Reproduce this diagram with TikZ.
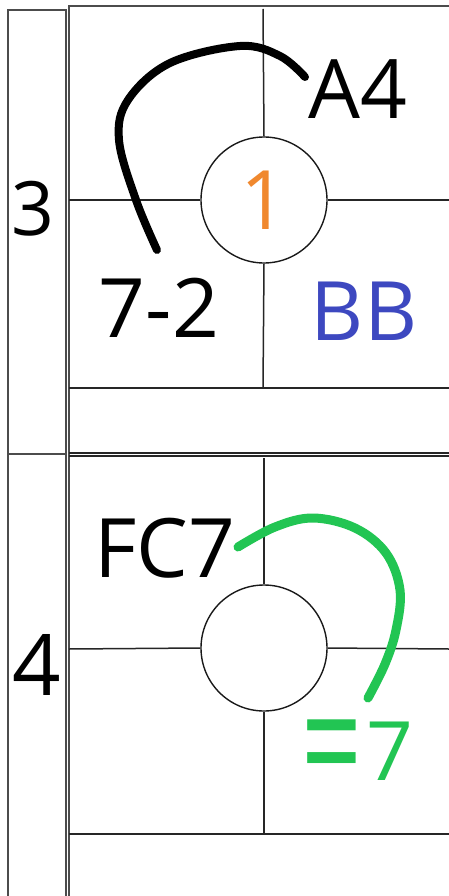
\documentclass[tikz,border=0pt]{standalone}
\usepackage{fontspec}
\setmainfont{Open Sans}
\definecolor{myorange}{HTML}{F0882E}
\definecolor{myblue}{HTML}{3D48C0}
\definecolor{mygreen}{HTML}{22C553}
\begin{document}
\begin{tikzpicture}[x=1pt,y=-1pt,
  frame/.style={draw=black!70, line width=1.5pt},
  gridline/.style={draw=black!85, line width=1.5pt},
  ring/.style={circle, draw=black!90, line width=1.4pt, minimum size=126pt, inner sep=0pt},
  bigtext/.style={font=\fontsize{82}{82}\selectfont},
  lbl/.style={inner sep=0pt, anchor=base, bigtext},
  stroke/.style={line width=8pt, line cap=round, line join=round}]
\useasboundingbox (0,0) rectangle (448,896);
\fill[white] (0,0) rectangle (448,896);
% left column
\draw[frame] (8,900) -- (8,10) -- (66,10) -- (66,900);
\draw[frame] (8,454) -- (66,454);
\node[lbl, font=\fontsize{75}{75}\selectfont] (n3) at (33,235) {3};
\node[lbl, font=\fontsize{85}{85}\selectfont] (n4) at (37,695) {4};
% right panel frame
\draw[frame] (69,900) -- (69,6) -- (449,6);
% section 1
\node[ring, bigtext, text=myorange] (c1) at (264,200) {1};
\coordinate (t1) at (263,9);
\coordinate (b1) at (263,388);
\coordinate (l1) at (69,200);
\coordinate (r1) at (449,200);
\draw[gridline] (t1) -- (c1.north);
\draw[gridline] (c1.south) -- (b1);
\draw[gridline] (l1) -- (c1.west);
\draw[gridline] (c1.east) -- (r1);
\coordinate (h1a) at (69,388);
\coordinate (h1b) at (449,388);
\draw[gridline] (h1a) -- (h1b);
\coordinate (d1a) at (69,453);
\coordinate (d1b) at (449,453);
\coordinate (d2a) at (69,456);
\coordinate (d2b) at (449,456);
\draw[gridline] (d1a) -- (d1b);
\draw[gridline] (d2a) -- (d2b);
\node[lbl] (a4) at (358,119) {A4};
\node[lbl] (n72) at (159,337) {7-2};
\node[lbl, text=myblue] (bb) at (364,340) {BB};
\draw[stroke, black] plot[smooth, tension=0.6] coordinates {(157,250) (136,200) (119,140) (128,100) (170,63) (240,46) (280,56) (305,77)};
% section 2
\node[ring] (c2) at (264,648) {};
\coordinate (t2) at (264,458);
\coordinate (b2) at (264,834);
\coordinate (l2) at (69,649);
\coordinate (r2) at (449,649);
\draw[gridline] (t2) -- (c2.north);
\draw[gridline] (c2.south) -- (b2);
\draw[gridline] (l2) -- (c2.west);
\draw[gridline] (c2.east) -- (r2);
\coordinate (h2a) at (69,834);
\coordinate (h2b) at (449,834);
\draw[gridline] (h2a) -- (h2b);
\node[lbl] (fc7) at (165,577) {FC7};
\node[lbl, text=mygreen] (eq7) at (357,780) {\raisebox{-19pt}{\scalebox{1.3}[2.0]{=}}\kern4pt 7};
\draw[stroke, mygreen, line width=9pt] plot[smooth, tension=0.6] coordinates {(238,547) (275,527) (313,518) (355,528) (386,553) (400,590) (396,630) (385,664) (368,698)};
\end{tikzpicture}
\end{document}
